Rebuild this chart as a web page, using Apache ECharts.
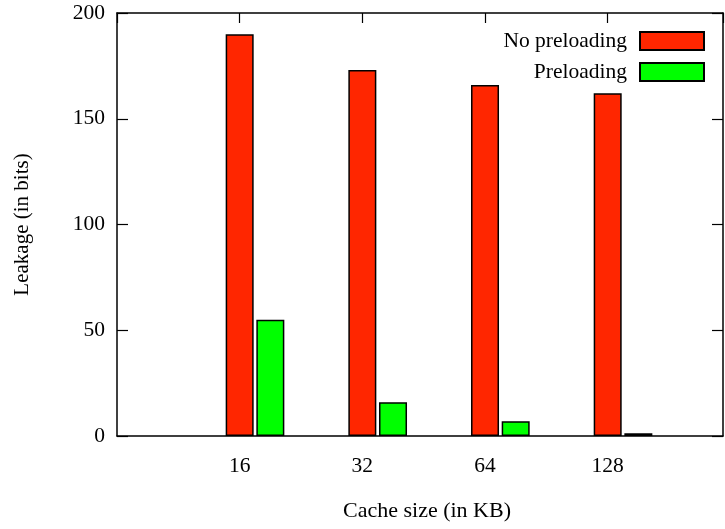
<!DOCTYPE html>
<html><head><meta charset="utf-8">
<script src="https://cdn.jsdelivr.net/npm/echarts@6/dist/echarts.min.js"></script>
<style>html,body{margin:0;padding:0;background:#fff}#c{width:725px;height:529px}</style>
</head><body><div id="c"></div>
<script>
const categories = ['16', '32', '64', '128'];
const noPreloading = [190, 173, 166, 162];
const preloading = [55, 16, 7, 1.3];
const yTicks = [0, 50, 100, 150, 200];

const F = '"Liberation Serif","DejaVu Serif",serif';
const chart = echarts.init(document.getElementById('c'));
const xBase = {type: 'value', min: 0, max: 4.94, interval: 1,
  axisLine: {show: true, onZero: false, lineStyle: {color: '#000', width: 1.5}},
  axisTick: {show: true, inside: true, length: 10, lineStyle: {color: '#000', width: 1.2}},
  splitLine: {show: false}};
const yBase = {type: 'value', min: 0, max: 200, interval: 50,
  axisLine: {show: true, onZero: false, lineStyle: {color: '#000', width: 1.5}},
  axisTick: {show: true, inside: true, length: 11, lineStyle: {color: '#000', width: 1.2}},
  splitLine: {show: false}};
const legendCommon = {right: 20, align: 'right', itemWidth: 64, itemHeight: 18, padding: 0,
  icon: 'rect', selectedMode: false,
  textStyle: {fontFamily: F, fontSize: 21.5, color: '#000', padding: [0, 8, 0, 0]}};
chart.setOption({
  animation: false,
  grid: {left: 117, right: 2, top: 13, bottom: 93, containLabel: false, outerBoundsMode: 'none'},
  xAxis: [
    Object.assign({}, xBase, {position: 'bottom',
      name: 'Cache size (in KB)', nameLocation: 'middle', nameGap: 64,
      nameTextStyle: {fontFamily: F, fontSize: 22, color: '#000', padding: [0, 0, 0, 14]},
      axisTick: {show: false},
      axisLabel: {margin: 19, fontFamily: F, fontSize: 21.5, color: '#000', showMaxLabel: false,
        formatter: v => (Number.isInteger(v) && v >= 1 && v <= categories.length) ? categories[v - 1] : ''}}),
    Object.assign({}, xBase, {position: 'top', axisLabel: {show: false}})
  ],
  yAxis: [
    Object.assign({}, yBase, {position: 'left',
      name: 'Leakage (in bits)', nameLocation: 'middle', nameGap: 84, nameRotate: 90,
      nameTextStyle: {fontFamily: F, fontSize: 21, color: '#000'},
      axisLabel: {margin: 12, fontFamily: F, fontSize: 21.5, color: '#000',
        formatter: v => yTicks.includes(v) ? String(v) : ''}}),
    Object.assign({}, yBase, {position: 'right', axisLabel: {show: false}})
  ],
  legend: [
    Object.assign({}, legendCommon, {data: ['No preloading'], top: 30}),
    Object.assign({}, legendCommon, {data: ['Preloading'], top: 61})
  ],
  series: [
    {name: 'No preloading', type: 'bar', barWidth: 28, barGap: '-100%',
      itemStyle: {color: '#ff2600', borderColor: '#000', borderWidth: 1.5},
      data: noPreloading.map((v, i) => [i + 1, v])},
    {name: 'Preloading', type: 'bar', barWidth: 28, barGap: '-100%',
      itemStyle: {color: '#00ff00', borderColor: '#000', borderWidth: 1.5},
      data: preloading.map((v, i) => [i + 1.25, v])}
  ]
});
</script></body></html>
